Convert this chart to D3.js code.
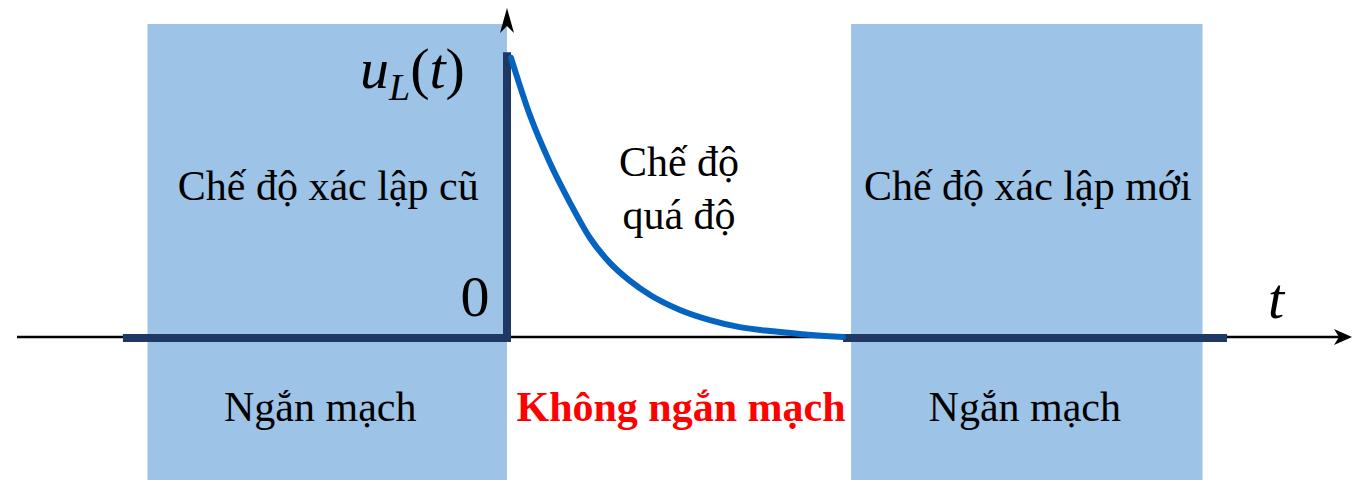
<!DOCTYPE html>
<html>
<head>
<meta charset="utf-8">
<script src="https://cdn.jsdelivr.net/npm/d3@7"></script>
<style>
  body { margin: 0; background: #fff; }
  text { font-family: "Liberation Serif", "DejaVu Serif", serif; }
</style>
</head>
<body>
<div id="chart"></div>
<script>
// time in arbitrary units, t = 0 at the switching instant
const regionNames = ["Chế độ xác lập cũ", "Chế độ xác lập mới"];
const regionStart = [-10.7, 10.24];
const regionEnd = [0, 20.7];
const stateLabels = ["Ngắn mạch", "Không ngắn mạch", "Ngắn mạch"];

// steady (zero) parts of u_L drawn as thick dark bars
const steadyStart = [-11.43, 10];
const steadyEnd = [0, 21.43];

// transient u_L(t), normalised to 1 at t = 0+
const curveT = [0.12, 0.68, 1.28, 1.88, 2.47, 3.07, 3.66, 4.26, 5.15, 6.04, 6.93, 7.83, 8.72, 10];
const curveU = [0.99, 0.787, 0.617, 0.475, 0.351, 0.262, 0.199, 0.149, 0.096, 0.060, 0.035, 0.021, 0.011, 0];

const width = 1353;
const height = 480;

const svg = d3.select("#chart")
  .append("svg")
  .attr("width", width)
  .attr("height", height);

const x = d3.scaleLinear()
  .domain([0, 10])
  .range([507, 843]);

const y = d3.scaleLinear()
  .domain([0, 1])
  .range([337, 55]);

// shaded regions
svg.selectAll("rect.region")
  .data(regionNames)
  .enter()
  .append("rect")
  .attr("class", "region")
  .attr("x", (d, i) => x(regionStart[i]))
  .attr("y", 24)
  .attr("width", (d, i) => x(regionEnd[i]) - x(regionStart[i]))
  .attr("height", height - 24)
  .attr("fill", "#9dc3e6");

// t axis
svg.append("line")
  .attr("x1", 17)
  .attr("x2", 1348)
  .attr("y1", y(0))
  .attr("y2", y(0))
  .attr("stroke", "#000")
  .attr("stroke-width", 2.5);

svg.append("path")
  .attr("d", `M1352,${y(0)} L1334,${y(0) - 8} L1339,${y(0)} L1334,${y(0) + 8} Z`)
  .attr("fill", "#000");

// vertical axis arrow head
svg.append("path")
  .attr("d", `M${x(0)},8 L${x(0) - 7},33 L${x(0)},26 L${x(0) + 7},33 Z`)
  .attr("fill", "#000");

// steady state bars
svg.selectAll("line.steady")
  .data(steadyStart)
  .enter()
  .append("line")
  .attr("class", "steady")
  .attr("x1", (d, i) => x(d))
  .attr("x2", (d, i) => x(steadyEnd[i]))
  .attr("y1", y(0) + 1)
  .attr("y2", y(0) + 1)
  .attr("stroke", "#1f3864")
  .attr("stroke-width", 8);

// jump at t = 0
svg.append("line")
  .attr("x1", x(0))
  .attr("x2", x(0))
  .attr("y1", y(1.01))
  .attr("y2", y(0) + 5)
  .attr("stroke", "#1f3864")
  .attr("stroke-width", 8);

// transient curve
const line = d3.line()
  .x((d, i) => x(curveT[i]))
  .y((d, i) => y(curveU[i]))
  .curve(d3.curveMonotoneX);

svg.append("path")
  .datum(curveT)
  .attr("d", line)
  .attr("fill", "none")
  .attr("stroke", "#0563c1")
  .attr("stroke-width", 6)
  .attr("stroke-linecap", "round");

// region titles
svg.selectAll("text.region")
  .data(regionNames)
  .enter()
  .append("text")
  .attr("class", "region")
  .attr("x", (d, i) => (x(regionStart[i]) + x(regionEnd[i])) / 2 + 1)
  .attr("y", 200)
  .attr("text-anchor", "middle")
  .style("font-size", "42px")
  .text(d => d);

// transient label
const mid = (x(regionEnd[0]) + x(regionStart[1])) / 2;
svg.append("text")
  .attr("x", mid)
  .attr("y", 176)
  .attr("text-anchor", "middle")
  .style("font-size", "42px")
  .text("Chế độ");
svg.append("text")
  .attr("x", mid)
  .attr("y", 229)
  .attr("text-anchor", "middle")
  .style("font-size", "42px")
  .text("quá độ");

// bottom state labels
const stateX = [
  (x(regionStart[0]) + x(regionEnd[0])) / 2 - 7,
  mid + 2,
  (x(regionStart[1]) + x(regionEnd[1])) / 2 - 2
];
svg.selectAll("text.state")
  .data(stateLabels)
  .enter()
  .append("text")
  .attr("class", "state")
  .attr("x", (d, i) => stateX[i])
  .attr("y", 421)
  .attr("text-anchor", "middle")
  .style("font-size", "42px")
  .style("font-weight", (d, i) => i === 1 ? "bold" : "normal")
  .attr("fill", (d, i) => i === 1 ? "#ff0000" : "#000")
  .text(d => d);

// axis labels
const uLabel = svg.append("text")
  .attr("x", 360)
  .attr("y", 88)
  .style("font-size", "58px")
  .style("font-style", "italic");
uLabel.append("tspan").text("u");
uLabel.append("tspan").attr("dy", 12).style("font-size", "38px").text("L");
uLabel.append("tspan").attr("dy", -12).style("font-style", "normal").text("(");
uLabel.append("tspan").text("t");
uLabel.append("tspan").style("font-style", "normal").text(")");

svg.append("text")
  .attr("x", 475)
  .attr("y", 316)
  .attr("text-anchor", "middle")
  .style("font-size", "58px")
  .text("0");

svg.append("text")
  .attr("x", 1268)
  .attr("y", 318)
  .style("font-size", "58px")
  .style("font-style", "italic")
  .text("t");
</script>
</body>
</html>
